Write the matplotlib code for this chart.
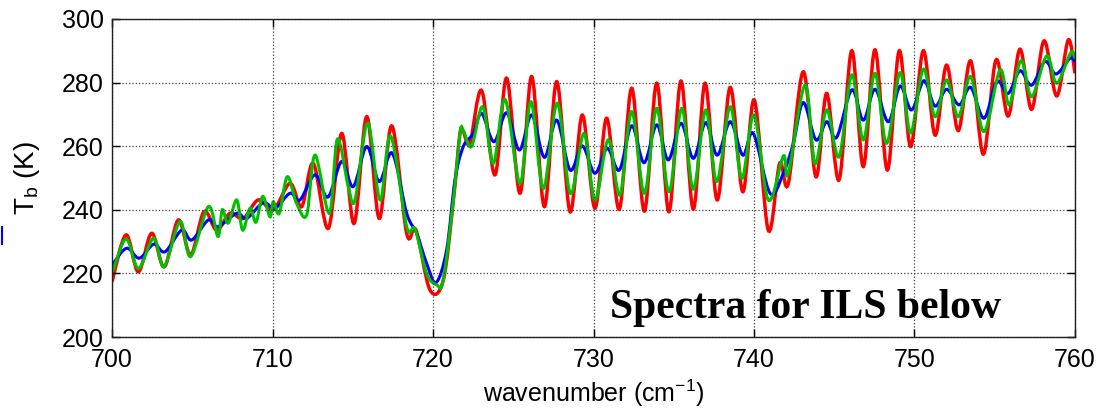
import numpy as np
import matplotlib
matplotlib.use('Agg')
import matplotlib.pyplot as plt
from matplotlib.path import Path
from matplotlib.patches import PathPatch
from matplotlib.lines import Line2D

plt.rcParams['font.family'] = ['Liberation Sans', 'DejaVu Sans']
plt.rcParams['mathtext.default'] = 'regular'

# values (peaks / troughs of each spectrum)
red_x = [700.0, 700.87, 701.64, 702.47, 703.26, 704.13, 704.9, 705.73, 706.52, 707.35,
         708.18, 709.11, 710.05, 711.09, 711.82, 712.54, 713.48, 714.31, 715.08, 715.87,
         716.65, 717.43, 718.36, 718.94, 719.81, 720.64, 721.27, 721.68, 721.89, 722.3,
         723.03, 723.86, 724.59, 725.42, 726.15, 726.94, 727.71, 728.54, 729.3, 730.09,
         730.82, 731.61, 732.38, 733.17, 733.94, 734.7, 735.45, 736.22, 736.95, 737.71,
         738.52, 739.3, 740.02, 740.89, 741.6, 742.14, 743.07, 743.86, 744.53, 745.3,
         746.09, 746.81, 747.54, 748.31, 749.05, 749.76, 750.55, 751.28, 752.0, 752.73,
         753.5, 754.29, 755.08, 755.84, 756.57, 757.3, 758.07, 758.86, 759.58, 760.0]
red_y = [217.4, 232.1, 220.5, 232.6, 222.1, 236.8, 225.8, 239.4, 233.6, 238.9,
         237.3, 243.1, 240.0, 248.3, 241.0, 254.6, 234.2, 264.0, 235.7, 269.3,
         237.3, 266.4, 232.6, 233.6, 214.8, 217.9, 243.1, 264.0, 264.6, 260.9,
         277.5, 251.0, 281.4, 245.2, 281.9, 241.0, 280.3, 239.4, 269.8, 240.5,
         268.8, 240.2, 278.2, 239.6, 279.8, 239.4, 280.5, 240.2, 279.8, 243.1,
         278.5, 245.7, 274.5, 233.6, 254.6, 248.3, 283.4, 250.4, 276.6, 249.4,
         290.0, 253.6, 290.3, 252.5, 290.0, 259.9, 290.0, 263.5, 285.5, 264.9,
         286.8, 257.5, 287.1, 269.5, 290.5, 271.6, 293.1, 275.8, 293.4, 282.9]

blue_x = [700.0, 700.9, 701.7, 702.6, 703.3, 704.34, 704.97, 706.0, 706.6, 707.77,
          708.39, 709.42, 710.16, 711.09, 711.71, 712.65, 713.45, 714.31, 715.03, 715.87,
          716.65, 717.46, 718.36, 718.98, 719.6, 720.19, 720.85, 721.37, 721.89, 722.51,
          723.03, 723.8, 724.59, 725.38, 726.15, 726.94, 727.71, 728.54, 729.3, 730.09,
          730.86, 731.61, 732.38, 733.15, 733.94, 734.66, 735.45, 736.22, 736.99, 737.71,
          738.52, 739.3, 739.96, 741.0, 741.83, 742.45, 743.07, 743.86, 744.53, 745.15,
          746.09, 746.81, 747.54, 748.37, 749.1, 749.82, 750.59, 751.28, 752.0, 752.79,
          753.5, 754.33, 755.12, 755.84, 756.57, 757.3, 758.13, 758.82, 759.69, 760.0]
blue_y = [222.6, 227.9, 224.8, 229.2, 226.8, 233.6, 230.5, 236.8, 234.7, 238.9,
          237.3, 242.2, 240.5, 245.2, 243.1, 251.0, 244.0, 255.2, 247.3, 259.9,
          248.9, 257.8, 238.9, 232.6, 223.2, 217.1, 227.4, 249.4, 259.9, 264.0,
          270.3, 261.4, 270.5, 258.8, 269.8, 256.5, 268.2, 252.5, 260.1, 251.5,
          259.3, 252.5, 266.4, 254.8, 266.7, 255.7, 267.2, 256.2, 267.4, 257.2,
          267.7, 257.2, 264.0, 245.2, 251.5, 260.9, 273.7, 262.0, 267.7, 262.8,
          277.7, 268.2, 277.9, 267.7, 278.9, 271.4, 280.6, 272.6, 277.9, 273.0,
          278.5, 268.8, 280.3, 276.6, 283.7, 279.2, 286.6, 282.7, 287.6, 286.6]

green_x = [700.0, 700.87, 701.64, 702.6, 703.24, 704.24, 704.9, 706.0, 706.6, 706.87,
           707.24, 707.77, 708.14, 708.6, 708.97, 709.39, 709.84, 710.05, 710.42, 710.92,
           711.5, 712.13, 712.65, 713.54, 714.04, 714.72, 715.14, 715.93, 716.7, 717.36,
           718.36, 718.88, 719.6, 720.23, 720.64, 721.27, 721.68, 721.89, 722.4, 723.1,
           723.76, 724.49, 725.42, 726.1, 726.87, 727.74, 728.56, 729.41, 730.09, 730.92,
           731.65, 732.38, 733.17, 733.94, 734.7, 735.5, 736.22, 736.99, 737.68, 738.52,
           739.24, 740.0, 740.89, 741.83, 742.14, 743.18, 743.8, 744.53, 745.3, 746.09,
           746.81, 747.54, 748.26, 749.1, 749.76, 750.55, 751.28, 752.0, 752.73, 753.5,
           754.33, 755.33, 755.9, 756.64, 757.3, 758.24, 758.86, 759.73, 760.0]
green_y = [220.0, 230.8, 221.6, 231.1, 222.1, 236.3, 225.3, 241.0, 231.6, 240.0,
           235.8, 243.1, 233.6, 240.5, 236.1, 244.2, 237.8, 242.5, 238.9, 250.4,
           242.0, 238.4, 257.2, 238.9, 262.2, 247.3, 243.1, 267.2, 243.1, 263.2,
           234.7, 233.9, 220.0, 216.4, 217.9, 243.1, 264.0, 264.9, 259.9, 272.4,
           254.6, 274.7, 248.3, 274.0, 246.7, 273.5, 245.2, 264.0, 243.1, 262.0,
           244.7, 270.9, 245.2, 271.9, 245.7, 271.9, 246.5, 271.4, 248.9, 272.4,
           249.9, 269.8, 243.1, 256.9, 251.5, 279.2, 254.6, 271.4, 256.7, 282.4,
           262.0, 282.9, 260.9, 283.1, 264.2, 284.2, 269.3, 280.8, 269.3, 281.9,
           264.6, 284.0, 273.0, 286.9, 275.6, 288.4, 279.8, 289.4, 287.6]

xticks = [700, 710, 720, 730, 740, 750, 760]
yticks = [200, 220, 240, 260, 280, 300]


def smooth_curve(x, y):
    # bezier path through the read points (catmull-rom tangents)
    pts = np.column_stack([x, y])
    n = len(pts)
    verts = [pts[0]]
    codes = [Path.MOVETO]
    for i in range(n - 1):
        p0 = pts[max(i - 1, 0)]
        p1 = pts[i]
        p2 = pts[i + 1]
        p3 = pts[min(i + 2, n - 1)]
        verts += [p1 + (p2 - p0) / 6.0, p2 - (p3 - p1) / 6.0, p2]
        codes += [Path.CURVE4] * 3
    return Path(verts, codes)


fig = plt.figure(figsize=(11.08, 4.13), dpi=100)
ax = fig.add_axes([0.1011, 0.184, 0.8691, 0.770])

for xs, ys, col, lw in [(red_x, red_y, '#ff0000', 2.5),
                        (blue_x, blue_y, '#0000ff', 2.2),
                        (green_x, green_y, '#00c000', 2.2)]:
    ax.add_patch(PathPatch(smooth_curve(xs, ys), facecolor='none',
                           edgecolor=col, lw=lw))

ax.set_xlim(700, 760)
ax.set_ylim(200, 300)
ax.set_xticks(xticks)
ax.set_yticks(yticks)
ax.tick_params(direction='in', length=6, width=1, top=True, right=True,
               labelsize=18)
ax.tick_params(axis='x', pad=8)
ax.tick_params(axis='y', pad=6)
ax.grid(True, linestyle=':', color='#404040', linewidth=0.9)
for s in ax.spines.values():
    s.set_linewidth(1.0)
    s.set_color('#202020')

ax.set_xlabel('wavenumber (cm$^{-1}$)', fontsize=18, labelpad=4)
ax.set_ylabel('T$_b$ (K)', fontsize=20, labelpad=14)

ax.text(731.0, 206.0, 'Spectra for ILS below', family='Liberation Serif',
        weight='bold', fontsize=30, va='baseline', ha='left')

# small blue mark at the left edge of the picture
fig.add_artist(Line2D([0.002, 0.002], [0.41, 0.45], color='#0000ff', lw=1.5))

fig.savefig('out.png', dpi=100)
